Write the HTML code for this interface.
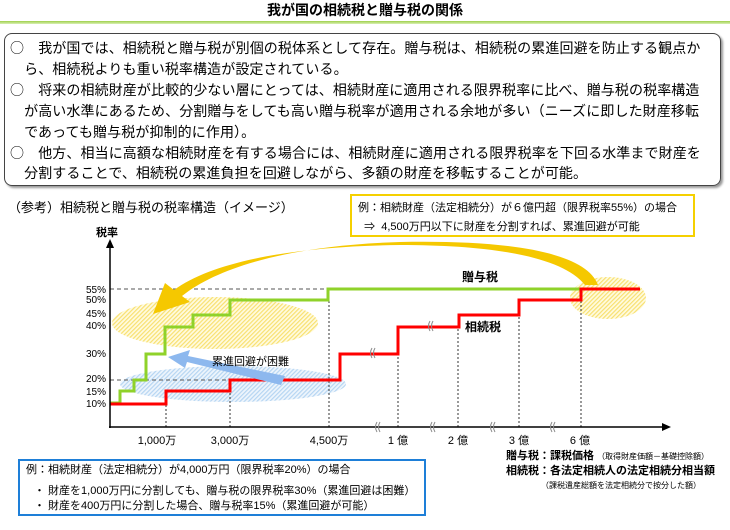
<!DOCTYPE html>
<html><head><meta charset="utf-8"><style>
body{margin:0;width:730px;height:530px;background:#fff;overflow:hidden;font-family:"Liberation Sans","Noto Sans CJK JP",sans-serif;color:#000}
svg text{font-family:"Liberation Sans","Noto Sans CJK JP",sans-serif}
.t{position:absolute;white-space:nowrap}
.c{font-family:"Noto Sans CJK JP",sans-serif;font-size:14px}
</style></head><body>
<div class="t" style="left:0;width:730px;top:0;text-align:center;font-size:14px;font-weight:bold;line-height:20px">我が国の相続税と贈与税の関係</div>
<div style="position:absolute;left:0;top:21px;width:730px;height:3px;background:linear-gradient(#9fd04a,#d9efb6)"></div>
<div style="position:absolute;left:4px;top:33px;width:715px;height:151px;border:1.5px solid #444;border-radius:8px;box-shadow:2px 2px 2px #999"></div>
<div class="t" style="left:10px;top:38px;font-size:14px;line-height:20.9px;letter-spacing:0.1px">
<span class="c">○</span>　我が国では、相続税と贈与税が別個の税体系として存在。贈与税は、相続税の累進回避を防止する観点か<br>
　ら、相続税よりも重い税率構造が設定されている。<br>
<span class="c">○</span>　将来の相続財産が比較的少ない層にとっては、相続財産に適用される限界税率に比べ、贈与税の税率構造<br>
　が高い水準にあるため、分割贈与をしても高い贈与税率が適用される余地が多い（ニーズに即した財産移転<br>
　であっても贈与税が抑制的に作用）。<br>
<span class="c">○</span>　他方、相当に高額な相続財産を有する場合には、相続財産に適用される限界税率を下回る水準まで財産を<br>
　分割することで、相続税の累進負担を回避しながら、多額の財産を移転することが可能。</div>
<div class="t" style="left:8px;top:197px;font-size:13px">（参考）相続税と贈与税の税率構造（イメージ）</div>
<div style="position:absolute;left:350px;top:194px;width:341px;height:39px;border:2px solid #f5d000"></div>
<div class="t" style="left:358px;top:199px;font-size:11px;line-height:19px">例：相続財産（法定相続分）が６億円超（限界税率55%）の場合<br>&nbsp;&nbsp;⇒&nbsp; 4,500万円以下に財産を分割すれば、累進回避が可能</div>
<svg width="730" height="530" style="position:absolute;left:0;top:0">
<defs>
<pattern id="hy" width="3" height="3" patternUnits="userSpaceOnUse" patternTransform="rotate(45)"><rect width="3" height="3" fill="#fffbe0"/><rect width="1.2" height="3" fill="#f8e070"/></pattern>
<pattern id="hb" width="3" height="3" patternUnits="userSpaceOnUse" patternTransform="rotate(45)"><rect width="3" height="3" fill="#eef5fc"/><rect width="1.2" height="3" fill="#b5d5f2"/></pattern>
</defs>
<ellipse cx="215" cy="323" rx="103" ry="26" fill="url(#hy)"/>
<ellipse cx="233" cy="384" rx="113" ry="18" fill="url(#hb)"/>
<ellipse cx="608" cy="298" rx="38" ry="21" fill="url(#hy)"/>
<g stroke="#555" stroke-width="1" stroke-dasharray="4,3" fill="none">
<line x1="110" y1="289" x2="640" y2="289"/><line x1="110" y1="380" x2="230" y2="380"/>
</g>
<g stroke="#333" stroke-width="1" stroke-dasharray="2,2" fill="none">
<line x1="166" y1="427" x2="166" y2="391"/><line x1="230" y1="427" x2="230" y2="380"/>
<line x1="329" y1="427" x2="329" y2="299"/><line x1="398" y1="427" x2="398" y2="354"/>
<line x1="458" y1="427" x2="458" y2="327"/><line x1="519" y1="427" x2="519" y2="315"/>
<line x1="581" y1="427" x2="581" y2="300"/>
</g>
<path d="M110 403H120V391H134V380H146V354H165V327H193V315H230V300H328V289H640" stroke="#8fd22a" stroke-width="3" fill="none"/>
<path d="M110 404H166V391H230V380H340V354H398V327H459V315H519V300H581V289H640" stroke="#f00" stroke-width="3" fill="none"/>
<path d="M598 285 C585 250 500 240 400 242 C300 245 222 264 182 296 L190 302 L153 314 L165 283 L174 290 C215 260 300 246 400 245 C490 245 562 256 585 285 Z" fill="#f5c800"/>
<path d="M281 385 L285 376 L188 356 L190 350 L168 357 L185 368 L187 362 Z" fill="#8db8ee"/>
<line x1="110" y1="428" x2="110" y2="246" stroke="#000" stroke-width="1.5"/>
<path d="M106 248L110 239L114 248Z"/>
<line x1="109" y1="427" x2="664" y2="427" stroke="#000" stroke-width="1.5"/>
<path d="M662 423L671 427L662 431Z"/>
<g font-size="10" text-anchor="end">
<text x="106" y="293">55%</text><text x="106" y="303">50%</text><text x="106" y="317">45%</text><text x="106" y="329">40%</text>
<text x="106" y="357">30%</text><text x="106" y="382">20%</text><text x="106" y="395">15%</text><text x="106" y="407">10%</text>
</g>
<text x="96" y="236" font-size="11" font-weight="bold">税率</text>
<g font-size="11" text-anchor="middle">
<text x="157" y="444">1,000万</text><text x="230" y="444">3,000万</text><text x="329" y="444">4,500万</text>
<text x="398" y="444">1 億</text><text x="458" y="444">2 億</text><text x="519" y="444">3 億</text><text x="580" y="444">6 億</text>
</g>
<g font-size="12" font-weight="bold"><text x="462" y="281">贈与税</text><text x="465" y="331">相続税</text></g>
<text x="212" y="365" font-size="11">累進回避が困難</text>
<g stroke="#888" stroke-width="1" fill="none">
<path d="M377 422q-3 5 0 10M380 422q-3 5 0 10"/><path d="M432 422q-3 5 0 10M435 422q-3 5 0 10"/>
<path d="M492 422q-3 5 0 10M495 422q-3 5 0 10"/><path d="M552 422q-3 5 0 10M555 422q-3 5 0 10"/>
<path d="M372 348q-3 5 0 10M375 348q-3 5 0 10"/><path d="M430 321q-3 5 0 10M433 321q-3 5 0 10"/>
</g>
</svg>
<div style="position:absolute;left:18px;top:459px;width:404px;height:53px;border:2px solid #1e7fd8"></div>
<div class="t" style="left:26px;top:463px;font-size:11px;line-height:15px">例：相続財産（法定相続分）が4,000万円（限界税率20%）の場合</div>
<div class="t" style="left:34px;top:484px;font-size:11px;line-height:15px">・ 財産を1,000万円に分割しても、贈与税の限界税率30%（累進回避は困難）<br>・ 財産を400万円に分割した場合、贈与税率15%（累進回避が可能）</div>
<div class="t" style="left:506px;top:449px;font-size:11px;line-height:14px"><b>贈与税：課税価格</b> <span style="font-size:8px">（取得財産価額－基礎控除額）</span><br><b>相続税：各法定相続人の法定相続分相当額</b><br><span style="font-size:8px;padding-left:35px">（課税遺産総額を法定相続分で按分した額）</span></div>
</body></html>
